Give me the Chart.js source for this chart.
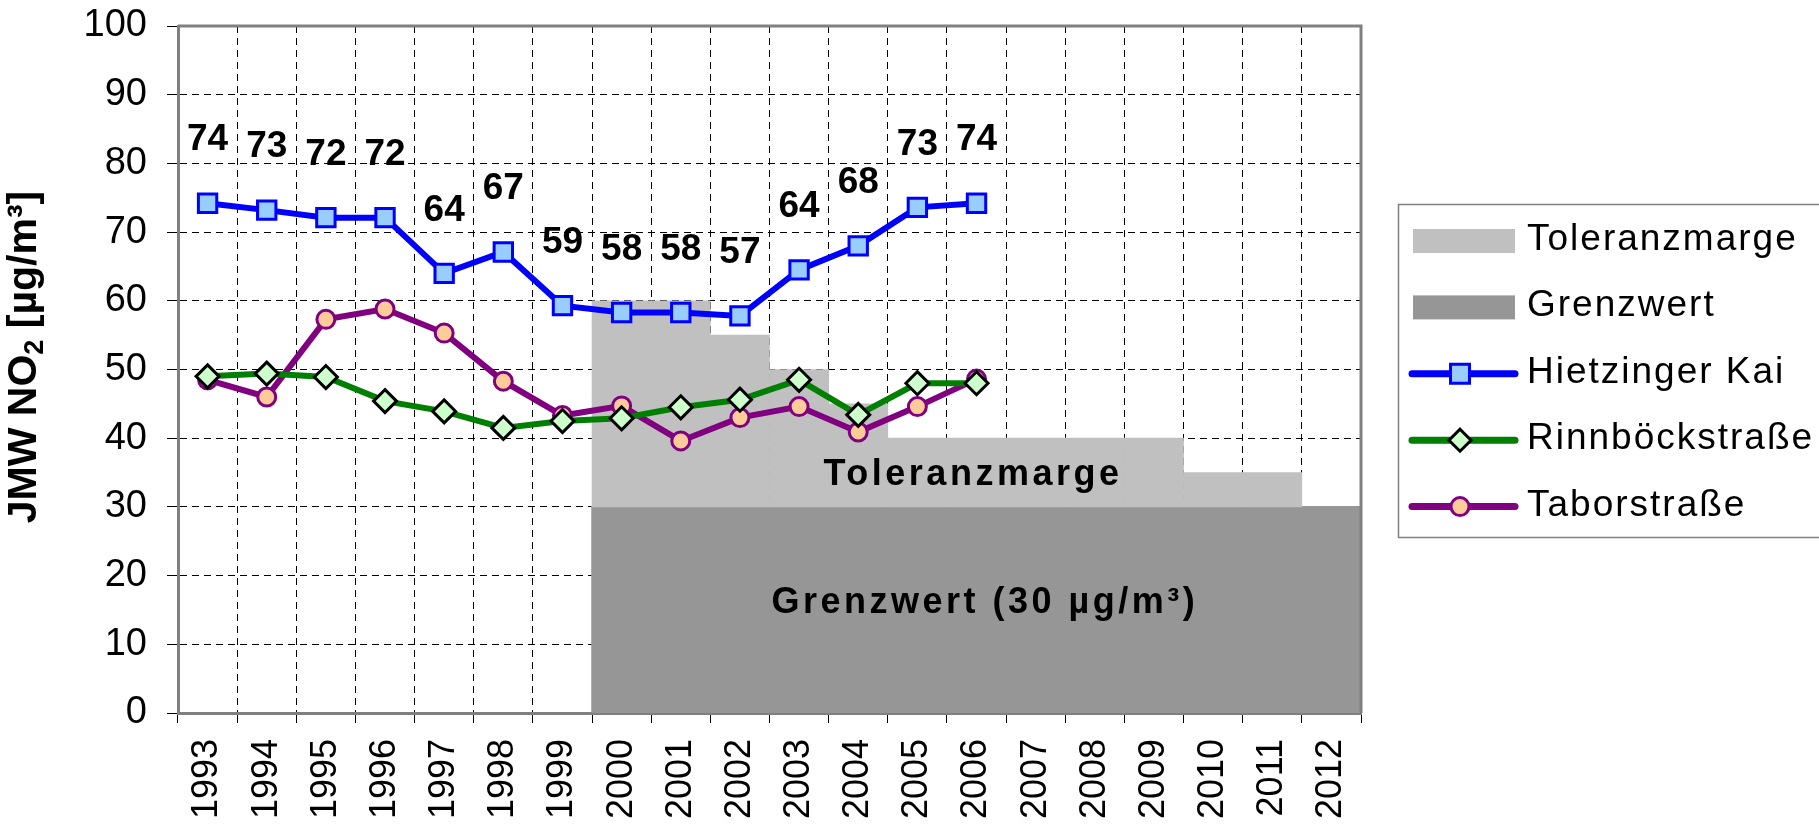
<!DOCTYPE html>
<html><head><meta charset="utf-8">
<script src="https://cdn.jsdelivr.net/npm/chart.js@4.4.1/dist/chart.umd.min.js"></script>
<style>html,body{margin:0;padding:0;background:#fff;}#wrap{width:1819px;height:827px;position:relative;}</style>
</head><body><div id="wrap"><canvas id="c" width="1819" height="827"></canvas></div>
<script>
const years = ['1993','1994','1995','1996','1997','1998','1999','2000','2001','2002','2003','2004','2005','2006','2007','2008','2009','2010','2011','2012'];
const hietzinger = [74.2,73.2,72.1,72.1,64.0,67.1,59.3,58.3,58.3,57.8,64.5,68.0,73.6,74.2];
const hietzingerLabels = [74,73,72,72,64,67,59,58,58,57,64,68,73,74];
const rinnboeck = [49.0,49.4,48.9,45.4,43.9,41.5,42.5,42.9,44.5,45.6,48.5,43.4,48.0,48.0];
const tabor = [48.5,46.0,57.3,58.8,55.3,48.3,43.3,44.7,39.6,43.0,44.6,40.9,44.6,48.6];
const grenzwert = [null,null,null,null,null,null,null,30,30,30,30,30,30,30,30,30,30,30,30,30];
const toleranzTop = [null,null,null,null,null,null,null,60,60,55,50,45,40,40,40,40,40,35,35,30];
const yTicks = [0,10,20,30,40,50,60,70,80,90,100];

const FONT = "'Liberation Sans', Arial, sans-serif";
const toleranzBars = toleranzTop.map((t,i)=> (t==null || t <= grenzwert[i]) ? null : [grenzwert[i], t]);

const extras = {
  id: 'extras',
  afterDatasetsDraw(chart) {
    const {ctx, chartArea: a, scales: {x, y}} = chart;
    ctx.save();
    ctx.strokeStyle = '#808080'; ctx.lineWidth = 3; ctx.setLineDash([]);
    ctx.beginPath(); ctx.moveTo(a.left, a.top); ctx.lineTo(a.right, a.top); ctx.lineTo(a.right, a.bottom); ctx.stroke();
    ctx.fillStyle = '#000'; ctx.textAlign = 'center'; ctx.textBaseline = 'middle';
    ctx.font = 'bold 36px ' + FONT;
    ctx.letterSpacing = '3.5px';
    ctx.fillText('Toleranzmarge', x.getPixelForValue(12.94), y.getPixelForValue(34.6));
    ctx.fillText('Grenzwert (30 µg/m³)', x.getPixelForValue(13.14), y.getPixelForValue(16.0));
    ctx.letterSpacing = '0px';
    ctx.font = 'bold 37px ' + FONT;
    const meta = chart.getDatasetMeta(0);
    meta.data.forEach((p, i) => {
      if (hietzingerLabels[i] != null) ctx.fillText(String(hietzingerLabels[i]), p.x, p.y - 63);
    });
    ctx.restore();
  },
  afterDraw(chart) {
    const {ctx} = chart;
    ctx.save();
    ctx.translate(25, 357);
    ctx.rotate(-Math.PI/2);
    ctx.fillStyle = '#000';
    ctx.textBaseline = 'middle';
    ctx.textAlign = 'left';
    const f1 = 'bold 41px ' + FONT, f2 = 'bold 27px ' + FONT;
    const t1 = 'JMW NO', t2 = '2', t3 = ' [µg/m³]';
    ctx.font = f1; const w1 = ctx.measureText(t1).width, w3 = ctx.measureText(t3).width;
    ctx.font = f2; const w2 = ctx.measureText(t2).width;
    let sx = -(w1 + w2 + w3) / 2;
    ctx.font = f1; ctx.fillText(t1, sx, 0);
    ctx.font = f2; ctx.fillText(t2, sx + w1, 11);
    ctx.font = f1; ctx.fillText(t3, sx + w1 + w2, 0);
    ctx.restore();

    ctx.save();
    ctx.strokeStyle = '#808080'; ctx.lineWidth = 1.5;
    ctx.strokeRect(1398.5, 204.5, 440, 333);
    const items = [
      {label:'Toleranzmarge', type:'box', color:'#C0C0C0'},
      {label:'Grenzwert', type:'box', color:'#969696'},
      {label:'Hietzinger Kai', type:'line', color:'#0000FF', marker:'rect', fill:'#99CCFF', stroke:'#0000FF'},
      {label:'Rinnböckstraße', type:'line', color:'#008000', marker:'diamond', fill:'#CCFFCC', stroke:'#000000'},
      {label:'Taborstraße', type:'line', color:'#800080', marker:'circle', fill:'#FFCC99', stroke:'#800080'}
    ];
    const baseY = 250, step = 66.4;
    items.forEach((it, i) => {
      const by = baseY + i*step;
      const cy = by - 9;
      if (it.type === 'box') {
        ctx.fillStyle = it.color;
        ctx.fillRect(1413, cy - 12, 102, 24);
      } else {
        ctx.strokeStyle = it.color; ctx.lineWidth = 7; ctx.lineCap = 'round';
        ctx.beginPath(); ctx.moveTo(1412, cy); ctx.lineTo(1515, cy); ctx.stroke();
        ctx.lineCap = 'butt';
        ctx.fillStyle = it.fill; ctx.strokeStyle = it.stroke; ctx.lineWidth = 3;
        const mx = 1460;
        ctx.beginPath();
        if (it.marker === 'rect') ctx.rect(mx - 9.5, cy - 9.5, 19, 19);
        else if (it.marker === 'diamond') { ctx.moveTo(mx, cy-11); ctx.lineTo(mx+11, cy); ctx.lineTo(mx, cy+11); ctx.lineTo(mx-11, cy); ctx.closePath(); }
        else ctx.arc(mx, cy, 9, 0, Math.PI*2);
        ctx.fill(); ctx.stroke();
      }
      ctx.fillStyle = '#000'; ctx.font = '37px ' + FONT; ctx.textAlign = 'left'; ctx.textBaseline = 'alphabetic';
      ctx.letterSpacing = '2px';
      ctx.fillText(it.label, 1527, by);
      ctx.letterSpacing = '0px';
    });
    ctx.restore();
  }
};

const lineDs = (label, data, color, style, radius, fill, stroke) => ({
  type: 'line', label, data, borderColor: color, borderWidth: 6, tension: 0,
  pointStyle: style, pointRadius: radius, pointBorderWidth: 3,
  pointBackgroundColor: fill, pointBorderColor: stroke, fill: false
});

new Chart(document.getElementById('c'), {
  type: 'bar',
  data: {
    labels: years,
    datasets: [
      lineDs('Hietzinger Kai', hietzinger, '#0000FF', 'rect', 13, '#99CCFF', '#0000FF'),
      lineDs('Rinnböckstraße', rinnboeck, '#008000', 'rectRot', 11.5, '#CCFFCC', '#000000'),
      lineDs('Taborstraße', tabor, '#800080', 'circle', 9, '#FFCC99', '#800080'),
      {type:'bar', label:'Toleranzmarge', data: toleranzBars, backgroundColor:'#C0C0C0', borderWidth:0, barPercentage:1, categoryPercentage:1, grouped:false},
      {type:'bar', label:'Grenzwert', data: grenzwert, backgroundColor:'#969696', borderWidth:0, barPercentage:1, categoryPercentage:1, grouped:false, inflateAmount: 0.8}
    ]
  },
  options: {
    responsive: false, animation: false, devicePixelRatio: 1,
    layout: {padding: {left: 0, top: 26, right: 458, bottom: 0}},
    plugins: {legend: {display: false}, tooltip: {enabled: false}},
    scales: {
      x: {
        offset: true,
        grid: {offset: true, color: c => c.type === 'tick' ? '#000' : 'rgba(0,0,0,0)', lineWidth: 1, tickLength: 10, tickColor: '#000', tickWidth: 1},
        border: {color: '#808080', width: 3, dash: [7,5]},
        ticks: {autoSkip: false, maxRotation: 90, minRotation: 90, padding: 16, color: '#000', font: {family: FONT, size: 36}},
        afterFit: s => { s.height = 114; s.paddingLeft = 0; s.paddingRight = 0; }
      },
      y: {
        min: 0, max: 100,
        afterBuildTicks: s => { s.ticks = yTicks.map(v => ({value: v})); },
        grid: {color: c => (c.tick && c.tick.value === 100) ? 'rgba(0,0,0,0)' : '#000', lineWidth: 1, tickLength: 11, tickColor: '#000', tickWidth: 1},
        border: {color: '#808080', width: 3, dash: [7,5]},
        ticks: {padding: 20, color: '#000', font: {family: FONT, size: 38}},
        afterFit: s => { s.width = 178; s.paddingTop = 0; s.paddingBottom = 0; }
      }
    }
  },
  plugins: [extras]
});
</script></body></html>
